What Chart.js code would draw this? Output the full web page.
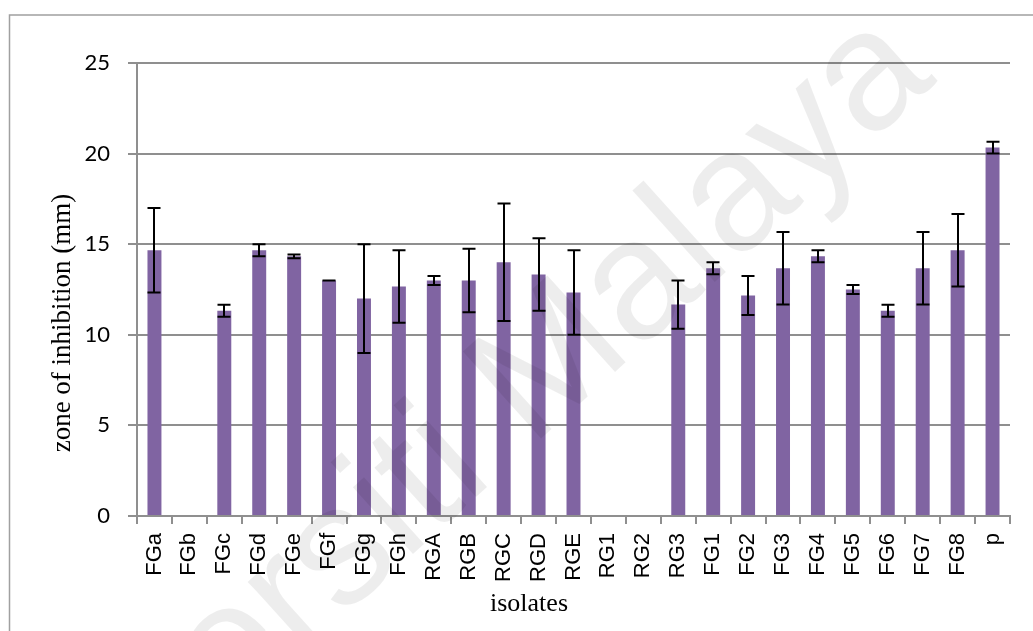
<!DOCTYPE html>
<html>
<head>
<meta charset="utf-8">
<script src="https://cdn.jsdelivr.net/npm/chart.js@4.4.1/dist/chart.umd.min.js"></script>
<style>
  html, body { margin: 0; padding: 0; background: #ffffff; }
  #wrap { width: 1033px; height: 631px; position: relative; }
  canvas { display: block; }
</style>
</head>
<body>
<div id="wrap"><canvas id="chart" width="1033" height="631"></canvas></div>
<script>
// Isolates tested and their mean zone of inhibition (mm) with standard error
const isolates = ['FGa','FGb','FGc','FGd','FGe','FGf','FGg','FGh','RGA','RGB','RGC','RGD','RGE',
                  'RG1','RG2','RG3','FG1','FG2','FG3','FG4','FG5','FG6','FG7','FG8','p'];
const zoneMean = [14.67, 0, 11.33, 14.67, 14.33, 13.0, 12.0, 12.67, 13.0, 13.0, 14.0, 13.33, 12.33,
                  0, 0, 11.67, 13.67, 12.17, 13.67, 14.33, 12.5, 11.33, 13.67, 14.67, 20.33];
const zoneError = [2.33, null, 0.33, 0.33, 0.1, 0.0, 3.0, 2.0, 0.25, 1.75, 3.24, 2.0, 2.33,
                   null, null, 1.33, 0.33, 1.08, 2.0, 0.33, 0.25, 0.33, 2.0, 2.0, 0.33];
const yTickValues = [0, 5, 10, 15, 20, 25];

const xTitle = 'isolates';
const yTitle = 'zone of inhibition (mm)';
const watermarkText = 'Universiti Malaya';

const AXIS_GREY = '#8f8f8f';
const BAR_PURPLE = '#8064A2';

// Vertical error bars with caps, placed through the chart's own scales
const errorBars = {
  id: 'errorBars',
  afterDatasetsDraw(chart) {
    const ctx = chart.ctx;
    const yScale = chart.scales.y;
    const meta = chart.getDatasetMeta(0);
    ctx.save();
    ctx.strokeStyle = '#000000';
    ctx.lineWidth = 2;
    meta.data.forEach((bar, i) => {
      const e = zoneError[i];
      if (e === null || zoneMean[i] === 0) return;
      const x = Math.round(bar.x);
      const yHi = yScale.getPixelForValue(zoneMean[i] + e);
      const yLo = yScale.getPixelForValue(zoneMean[i] - e);
      const cap = 6.5;
      ctx.beginPath();
      ctx.moveTo(x, yHi); ctx.lineTo(x, yLo);
      ctx.moveTo(x - cap, yHi); ctx.lineTo(x + cap, yHi);
      ctx.moveTo(x - cap, yLo); ctx.lineTo(x + cap, yLo);
      ctx.stroke();
    });
    ctx.restore();
  }
};

// Axis titles, frame and page watermark
const decorations = {
  id: 'decorations',
  afterDraw(chart) {
    const ctx = chart.ctx;
    ctx.save();
    // outer frame
    ctx.strokeStyle = '#a0a0a0';
    ctx.lineWidth = 1.5;
    ctx.strokeRect(9.5, 15, 1100, 700);

    // axis titles
    ctx.fillStyle = '#000000';
    ctx.font = '26px "Liberation Serif", "Times New Roman", serif';
    ctx.textAlign = 'center';
    ctx.textBaseline = 'alphabetic';
    ctx.fillText(xTitle, 529, 611);

    ctx.save();
    ctx.translate(70, 323);
    ctx.rotate(-Math.PI / 2);
    ctx.font = '27px "Liberation Serif", "Times New Roman", serif';
    ctx.fillText(yTitle, 0, 0);
    ctx.restore();

    // watermark
    ctx.save();
    ctx.translate(938, 81);
    ctx.rotate(-42 * Math.PI / 180);
    ctx.font = '170px "Liberation Sans", Arial, sans-serif';
    ctx.textAlign = 'right';
    ctx.textBaseline = 'alphabetic';
    ctx.fillStyle = 'rgba(0,0,0,0.07)';
    ctx.fillText(watermarkText, 0, 0);
    ctx.restore();

    ctx.restore();
  }
};

new Chart(document.getElementById('chart'), {
  type: 'bar',
  data: {
    labels: isolates,
    datasets: [{
      data: zoneMean,
      backgroundColor: BAR_PURPLE,
      borderWidth: 0,
      categoryPercentage: 1.0,
      barPercentage: 0.4
    }]
  },
  options: {
    responsive: false,
    devicePixelRatio: 1,
    animation: false,
    layout: { padding: { left: 0, right: 23, top: 63, bottom: 0 } },
    plugins: {
      legend: { display: false },
      tooltip: { enabled: false },
      title: { display: false }
    },
    scales: {
      x: {
        offset: true,
        grid: {
          display: true,
          drawOnChartArea: false,
          drawTicks: true,
          tickLength: 8,
          color: AXIS_GREY,
          lineWidth: 2,
          offset: true
        },
        border: { display: true, color: AXIS_GREY, width: 2 },
        ticks: {
          autoSkip: false,
          maxRotation: 90,
          minRotation: 90,
          padding: 9,
          color: '#000000',
          font: { family: '"Liberation Sans", Arial, sans-serif', size: 22 }
        },
        afterFit(scale) { scale.height = 115; }
      },
      y: {
        min: 0,
        max: 25,
        afterBuildTicks(scale) { scale.ticks = yTickValues.map(v => ({ value: v })); },
        grid: {
          color: AXIS_GREY,
          lineWidth: 2,
          drawTicks: true,
          tickLength: 9
        },
        border: { display: true, color: AXIS_GREY, width: 2 },
        ticks: {
          padding: 18,
          color: '#000000',
          font: { family: 'Lato, "Open Sans", sans-serif', size: 22 }
        },
        afterFit(scale) { scale.width = 137; }
      }
    }
  },
  plugins: [errorBars, decorations]
});
</script>
</body>
</html>
